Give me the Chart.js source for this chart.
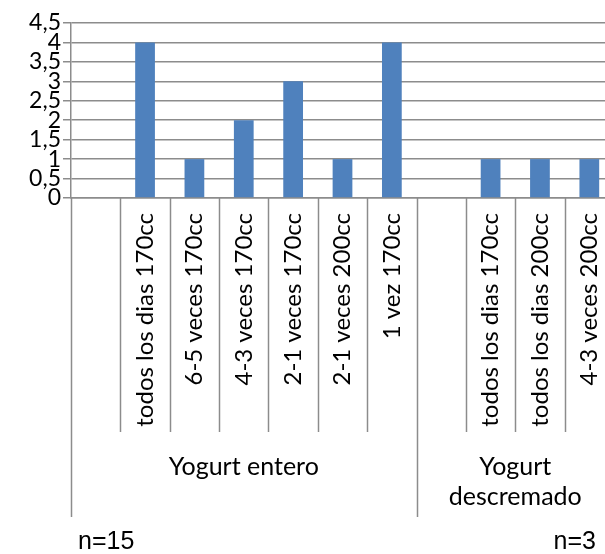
<!DOCTYPE html>
<html>
<head>
<meta charset="utf-8">
<script src="https://cdn.jsdelivr.net/npm/chart.js@4.4.0/dist/chart.umd.min.js"></script>
<style>
  html, body { margin:0; padding:0; background:#fff; }
  #wrap { width:605px; height:554px; overflow:hidden; position:relative; }
  canvas { display:block; }
</style>
</head>
<body>
<div id="wrap"><canvas id="c" width="614" height="554"></canvas></div>
<script>
// --- Data ---
const categories = ['', 'todos los dias 170cc', '6-5 veces 170cc', '4-3 veces 170cc', '2-1 veces 170cc',
    '2-1 veces 200cc', '1 vez 170cc', '', 'todos los dias 170cc', 'todos los dias 200cc', '4-3 veces 200cc'];
const values = [0, 4, 1, 2, 3, 1, 4, 0, 1, 1, 1];
const groupNames = [['Yogurt entero'], ['Yogurt', 'descremado']];
const groupSizes = [7, 4];
const groupNotes = ['n=15', 'n=3'];
const yMax = 4.5, yStep = 0.5;

const LINE = '#8c8c8c';
const FONT = 'Lato, Calibri, sans-serif';

// --- multi level axis below the categories ---
const groupAxis = {
    id: 'groupAxis',
    afterDraw(chart) {
        const ctx = chart.ctx, x = chart.scales.x, area = chart.chartArea;
        const slot = x.getPixelForValue(1) - x.getPixelForValue(0);
        const edge = i => x.getPixelForValue(0) - slot/2 + i*slot;
        const starts = [0];
        groupSizes.forEach((s, i) => starts.push(starts[i] + s));

        ctx.save();
        ctx.strokeStyle = LINE;
        ctx.lineWidth = 1.5;
        for (let i = 0; i <= categories.length; i++) {
            const isGroup = starts.includes(i);
            const px = Math.round(edge(i)) + 0.5;
            ctx.beginPath();
            ctx.moveTo(px, area.bottom);
            ctx.lineTo(px, isGroup ? 517 : 432);
            ctx.stroke();
        }

        ctx.fillStyle = '#000';
        ctx.textAlign = 'center';
        ctx.textBaseline = 'middle';
        ctx.font = '25px ' + FONT;
        groupNames.forEach((lines, g) => {
            const cx = (edge(starts[g]) + edge(starts[g+1])) / 2;
            lines.forEach((t, k) => ctx.fillText(t, cx, 467 + k*30));
        });

        ctx.font = '25px "Liberation Sans", Arial, sans-serif';
        ctx.textBaseline = 'alphabetic';
        ctx.textAlign = 'left';
        ctx.fillText(groupNotes[0], 78, 549);
        ctx.textAlign = 'right';
        ctx.fillText(groupNotes[1], 596, 549);
        ctx.restore();
    }
};

new Chart(document.getElementById('c'), {
    type: 'bar',
    data: {
        labels: categories,
        datasets: [{
            data: values,
            backgroundColor: '#4f81bd',
            barPercentage: 0.4,
            categoryPercentage: 1.0
        }]
    },
    options: {
        responsive: false,
        animation: false,
        layout: { padding: { top: 23, right: 0, left: 0, bottom: 0 } },
        plugins: { legend: { display: false }, tooltip: { enabled: false } },
        scales: {
            x: {
                grid: { display: false, drawTicks: false },
                border: { color: LINE, width: 1.5 },
                ticks: {
                    color: '#000',
                    font: { family: FONT, size: 24 },
                    minRotation: 90, maxRotation: 90,
                    autoSkip: false,
                    padding: 15
                },
                afterFit(s) { s.height = 356; s.paddingLeft = 0; s.paddingRight = 0; }
            },
            y: {
                min: 0, max: yMax,
                grid: { color: LINE, lineWidth: 1.5, tickLength: 8, drawTicks: true },
                border: { color: LINE, width: 1.5 },
                ticks: {
                    stepSize: yStep,
                    autoSkip: false,
                    color: '#000',
                    font: { family: FONT, size: 23, lineHeight: 1 },
                    padding: 2,
                    callback: v => String(v).replace('.', ',')
                },
                afterFit(s) { s.width = 71; }
            }
        }
    },
    plugins: [groupAxis]
});
</script>
</body>
</html>
